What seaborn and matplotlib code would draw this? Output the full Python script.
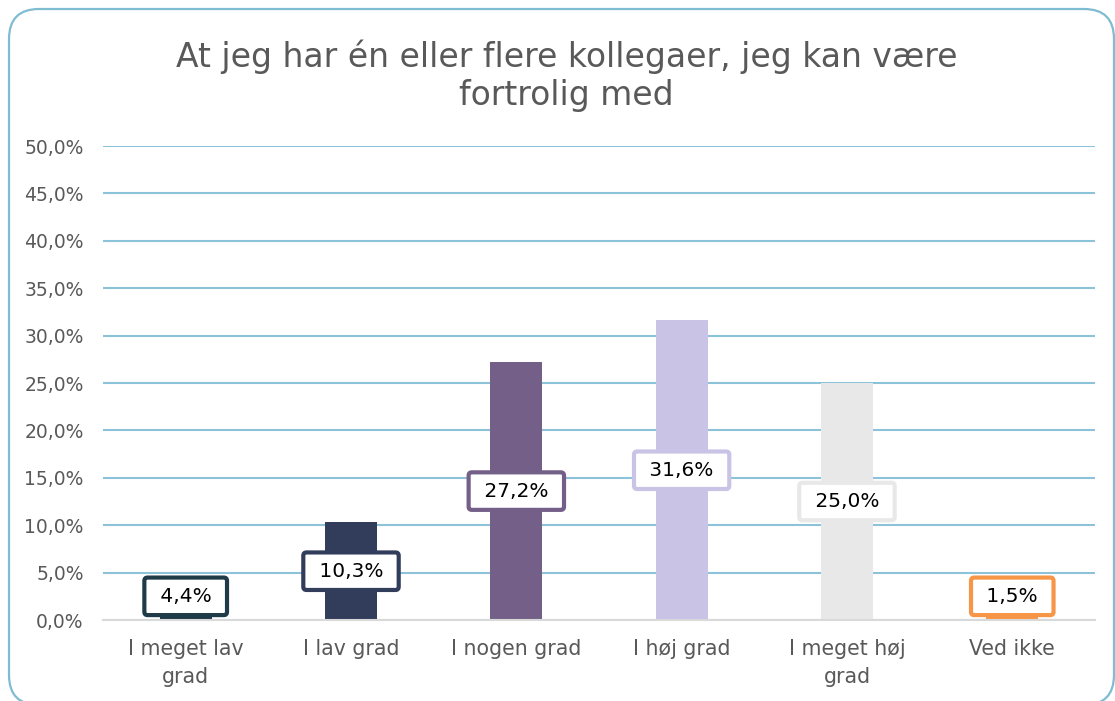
import matplotlib
matplotlib.use("Agg")
import matplotlib.pyplot as plt
import seaborn as sns
import pandas as pd
from matplotlib.patches import FancyBboxPatch
from matplotlib.ticker import FuncFormatter

categories = ["I meget lav\ngrad", "I lav grad", "I nogen grad", "I høj grad", "I meget høj\ngrad", "Ved ikke"]
values = [4.4, 10.3, 27.2, 31.6, 25.0, 1.5]
colors = ["#1E3B47", "#323D5C", "#735F87", "#C9C3E6", "#E8E8E8", "#F79646"]
title = "At jeg har én eller flere kollegaer, jeg kan være\nfortrolig med"

sns.set_theme(style="white")
plt.rcParams['font.family'] = ['DejaVu Sans']

fig = plt.figure(figsize=(11.15, 7.01), dpi=100)
ax = fig.add_axes([0.0924, 0.1155, 0.8896, 0.6762])

df = pd.DataFrame({"cat": categories, "val": values})
sns.barplot(data=df, x="cat", y="val", hue="cat", palette=colors, legend=False,
            width=0.315, ax=ax, saturation=1, linewidth=0)

ax.set_ylim(0, 50)
ax.set_xlim(-0.5, len(categories) - 0.5)
ax.set_yticks(range(0, 51, 5))
ax.yaxis.set_major_formatter(FuncFormatter(lambda v, p: f"{v:.1f}%".replace(".", ",")))
ax.grid(axis="y", color="#8CC3D8", linewidth=1.5)
ax.set_axisbelow(True)
for s in ["top", "right", "left"]:
    ax.spines[s].set_visible(False)
ax.spines["bottom"].set_color("#D9D9D9")
ax.spines["bottom"].set_linewidth(1.5)
ax.tick_params(axis="both", length=0, colors="#595959")
ax.tick_params(axis="y", pad=14, labelsize=13.5)
ax.tick_params(axis="x", pad=14, labelsize=14.8)
for lbl in ax.get_xticklabels():
    lbl.set_linespacing(1.45)
ax.set_xlabel("")
ax.set_ylabel("")

for i, v in enumerate(values):
    ypos = max(v / 2, 2.5)
    ax.text(i, ypos, " " + f"{v:.1f}%".replace(".", ",") + " ", ha="center", va="center",
            fontsize=14.5, color="black",
            bbox=dict(boxstyle="round,pad=0.46,rounding_size=0.16", fc="white",
                      ec=colors[i], lw=3))

fig.text(0.508, 0.892, title, ha="center", va="center", fontsize=23.8,
         color="#595959", linespacing=1.2)

W, H = 1115, 701
border = FancyBboxPatch((9 / W, -4 / H), (1114 - 9) / W, (692 + 4) / H,
                        boxstyle="round,pad=0,rounding_size=%f" % (30 / W),
                        transform=fig.transFigure, fc="none", ec="#7FBCD2", lw=1.6,
                        mutation_aspect=W / H, clip_on=False)
fig.patches.append(border)

fig.savefig("out.png", dpi=100)
